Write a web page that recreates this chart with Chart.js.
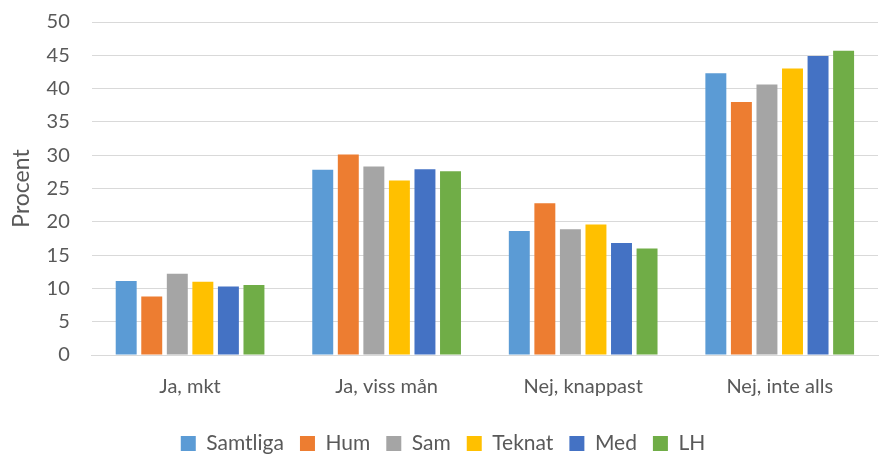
<!DOCTYPE html>
<html>
<head>
<meta charset="utf-8">
<script src="https://cdn.jsdelivr.net/npm/chart.js@4"></script>
<style>
  html, body { margin: 0; padding: 0; background: #fff; }
  #wrap { width: 880px; height: 454px; }
</style>
</head>
<body>
<div id="wrap"><canvas id="chart"></canvas></div>
<script>
const kategorier = ['Ja, mkt', 'Ja, viss mån', 'Nej, knappast', 'Nej, inte alls'];
const samtliga = [11.1, 27.8, 18.6, 42.3];
const hum = [8.8, 30.1, 22.8, 38.0];
const sam = [12.2, 28.3, 18.9, 40.6];
const teknat = [11.0, 26.2, 19.6, 43.0];
const med = [10.3, 27.9, 16.8, 44.9];
const lh = [10.5, 27.6, 16.0, 45.7];

const serier = [
  { label: 'Samtliga', data: samtliga, color: '#5B9BD5' },
  { label: 'Hum', data: hum, color: '#ED7D31' },
  { label: 'Sam', data: sam, color: '#A5A5A5' },
  { label: 'Teknat', data: teknat, color: '#FFC000' },
  { label: 'Med', data: med, color: '#4472C4' },
  { label: 'LH', data: lh, color: '#70AD47' }
];

const font = 'Lato, "Open Sans", sans-serif';
const textColor = '#595959';

new Chart(document.getElementById('chart').getContext('2d'), {
  type: 'bar',
  data: {
    labels: kategorier,
    datasets: serier.map(s => ({
      label: s.label,
      data: s.data,
      backgroundColor: s.color,
      categoryPercentage: 0.78,
      barPercentage: 0.82
    }))
  },
  options: {
    responsive: true,
    maintainAspectRatio: false,
    animation: false,
    layout: { padding: { top: 0, right: 2, left: 8, bottom: -10 } },
    plugins: {
      tooltip: { enabled: false },
      legend: {
        position: 'bottom',
        labels: {
          color: textColor,
          font: { family: font, size: 21 },
          boxWidth: 15,
          boxHeight: 15,
          padding: 16
        }
      }
    },
    scales: {
      x: {
        grid: { display: false },
        border: { color: '#d9d9d9' },
        ticks: { color: textColor, font: { family: font, size: 20 }, padding: 12 },
        // lite extra luft mellan etiketter och förklaring
        afterFit: (scale) => { scale.height += 6; }
      },
      y: {
        min: 0,
        max: 50,
        ticks: { stepSize: 5, color: textColor, font: { family: font, size: 20 }, padding: 22 },
        grid: { color: '#d9d9d9', lineWidth: 1, drawTicks: false },
        border: { display: false },
        title: {
          display: true,
          text: 'Procent',
          color: textColor,
          font: { family: font, size: 23 },
          padding: { top: 0, bottom: -11 }
        },
        afterFit: (scale) => { scale.paddingTop = 22; }
      }
    }
  }
});
</script>
</body>
</html>
